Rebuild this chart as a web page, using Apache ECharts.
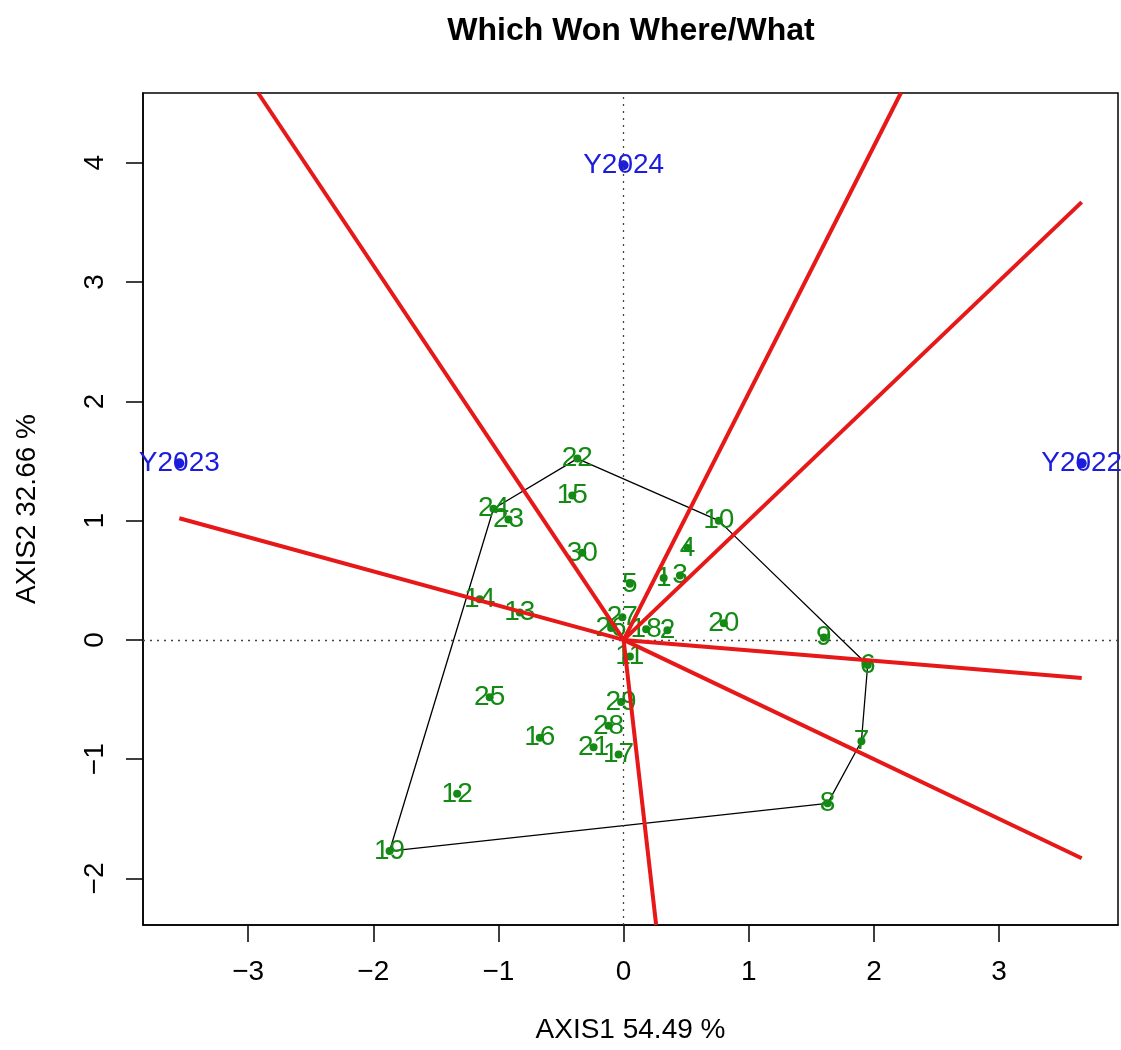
<!DOCTYPE html>
<html>
<head>
<meta charset="utf-8">
<title>Which Won Where/What</title>
<script src="https://cdn.jsdelivr.net/npm/echarts@6/dist/echarts.min.js"></script>
<style>
  html, body { margin: 0; padding: 0; background: #ffffff; }
  #chart { width: 1121px; height: 1050px; }
</style>
</head>
<body>
<div id="chart"></div>
<script>
// Genotype scores (AXIS1, AXIS2)
const genoLabels = ['1','2','3','4','5','6','7','8','9','10',
                    '11','12','13','14','15','16','17','18','19','20',
                    '21','22','23','24','25','26','27','28','29','30'];
const genoX = [0.32, 0.35, 0.45, 0.51, 0.05, 1.95, 1.90, 1.63, 1.60, 0.76,
               0.05, -1.33, -0.83, -1.15, -0.41, -0.67, -0.04, 0.18, -1.87, 0.80,
               -0.24, -0.37, -0.92, -1.04, -1.07, -0.10, -0.01, -0.12, -0.02, -0.33];
const genoY = [0.52, 0.08, 0.54, 0.77, 0.47, -0.21, -0.85, -1.37, 0.02, 1.00,
               -0.14, -1.29, 0.23, 0.34, 1.21, -0.82, -0.96, 0.09, -1.77, 0.14,
               -0.90, 1.52, 1.01, 1.10, -0.48, 0.10, 0.19, -0.72, -0.52, 0.73];

// Environment scores
const envLabels = ['Y2022', 'Y2023', 'Y2024'];
const envX = [3.66, -3.55, 0.00];
const envY = [1.48, 1.48, 3.98];

// Convex hull vertices (genotype labels, in drawing order)
const hullOrder = ['22', '10', '6', '7', '8', '19', '24'];

// Sector boundary rays from the origin (end points)
const rayEndX = [-2.92, 2.215, 3.66, 3.66, 3.66, 0.26, -3.55];
const rayEndY = [4.585, 4.585, 3.67, -0.32, -1.83, -2.39, 1.02];

// Axis ticks
const xTicks = [-3, -2, -1, 0, 1, 2, 3];
const yTicks = [-2, -1, 0, 1, 2, 3, 4];

const FONT = '"Liberation Sans", Arial, sans-serif';
const GREEN = '#138a13';
const BLUE = '#1c1cdc';
const RED = '#e61818';

const fmt = v => (v < 0 ? '\u2212' + Math.abs(v) : String(v));

const genoData = genoLabels.map((lab, i) => ({ name: lab, value: [genoX[i], genoY[i]] }));
const envData = envLabels.map((lab, i) => ({ name: lab, value: [envX[i], envY[i]] }));

const hullData = hullOrder.concat([hullOrder[0]]).map(lab => {
  const i = genoLabels.indexOf(lab);
  return [genoX[i], genoY[i]];
});

const raySeries = rayEndX.map((x, i) => ({
  type: 'line',
  data: [[0, 0], [x, rayEndY[i]]],
  showSymbol: false,
  symbol: 'none',
  lineStyle: { color: RED, width: 4 },
  silent: true,
  z: 6,
  animation: false
}));

const chart = echarts.init(document.getElementById('chart'), null, { renderer: 'canvas' });

chart.setOption({
  animation: false,
  backgroundColor: '#ffffff',
  textStyle: { fontFamily: FONT },
  graphic: [{
    type: 'text',
    x: 631,
    y: 31,
    style: {
      text: 'Which Won Where/What',
      fill: '#000',
      font: 'bold 32px ' + FONT,
      textAlign: 'center',
      textVerticalAlign: 'middle'
    }
  }],
  grid: {
    left: 143, right: 3, top: 93, bottom: 125,
    containLabel: false,
    outerBoundsMode: 'none',
    show: true,
    borderColor: '#000',
    borderWidth: 1.5,
    backgroundColor: 'transparent'
  },
  xAxis: {
    type: 'value',
    min: -3.84, max: 3.95,
    name: 'AXIS1 54.49 %',
    nameLocation: 'middle',
    nameGap: 91,
    nameTextStyle: { fontSize: 28, color: '#000', fontFamily: FONT },
    axisLine: { show: true, onZero: false, lineStyle: { color: '#000', width: 1.5 } },
    axisTick: { show: true, length: 17, customValues: xTicks, lineStyle: { color: '#000', width: 1.5 } },
    axisLabel: { customValues: xTicks, formatter: fmt, fontSize: 28, color: '#000', margin: 33, fontFamily: FONT },
    splitLine: { show: false }
  },
  yAxis: {
    type: 'value',
    min: -2.39, max: 4.585,
    name: 'AXIS2 32.66 %',
    nameLocation: 'middle',
    nameGap: 102,
    nameRotate: 90,
    nameTextStyle: { fontSize: 28, color: '#000', fontFamily: FONT },
    axisLine: { show: true, onZero: false, lineStyle: { color: '#000', width: 1.5 } },
    axisTick: { show: true, length: 17, customValues: yTicks, lineStyle: { color: '#000', width: 1.5 } },
    axisLabel: { customValues: yTicks, formatter: fmt, fontSize: 28, color: '#000', margin: 34, rotate: 90, fontFamily: FONT },
    splitLine: { show: false }
  },
  series: [
    {
      name: 'hull',
      type: 'line',
      data: hullData,
      showSymbol: false,
      symbol: 'none',
      lineStyle: { color: '#000', width: 1.3 },
      silent: true,
      z: 2,
      markLine: {
        silent: true,
        symbol: ['none', 'none'],
        label: { show: false },
        lineStyle: { color: '#444', type: [2, 5], width: 1.3, opacity: 1 },
        data: [{ xAxis: 0 }, { yAxis: 0 }]
      }
    },
    {
      name: 'genotypes',
      type: 'scatter',
      data: genoData,
      symbol: 'circle',
      symbolSize: 8,
      itemStyle: { color: GREEN, opacity: 1 },
      label: {
        show: true,
        position: 'inside',
        formatter: p => p.name,
        color: GREEN,
        opacity: 1,
        fontSize: 28,
        fontFamily: FONT
      },
      z: 4
    },
    {
      name: 'environments',
      type: 'scatter',
      data: envData,
      symbol: 'circle',
      symbolSize: 10,
      itemStyle: { color: BLUE, opacity: 1 },
      label: {
        show: true,
        position: 'inside',
        formatter: p => p.name,
        color: BLUE,
        opacity: 1,
        fontSize: 28,
        fontFamily: FONT
      },
      z: 4
    }
  ].concat(raySeries)
});
</script>
</body>
</html>
